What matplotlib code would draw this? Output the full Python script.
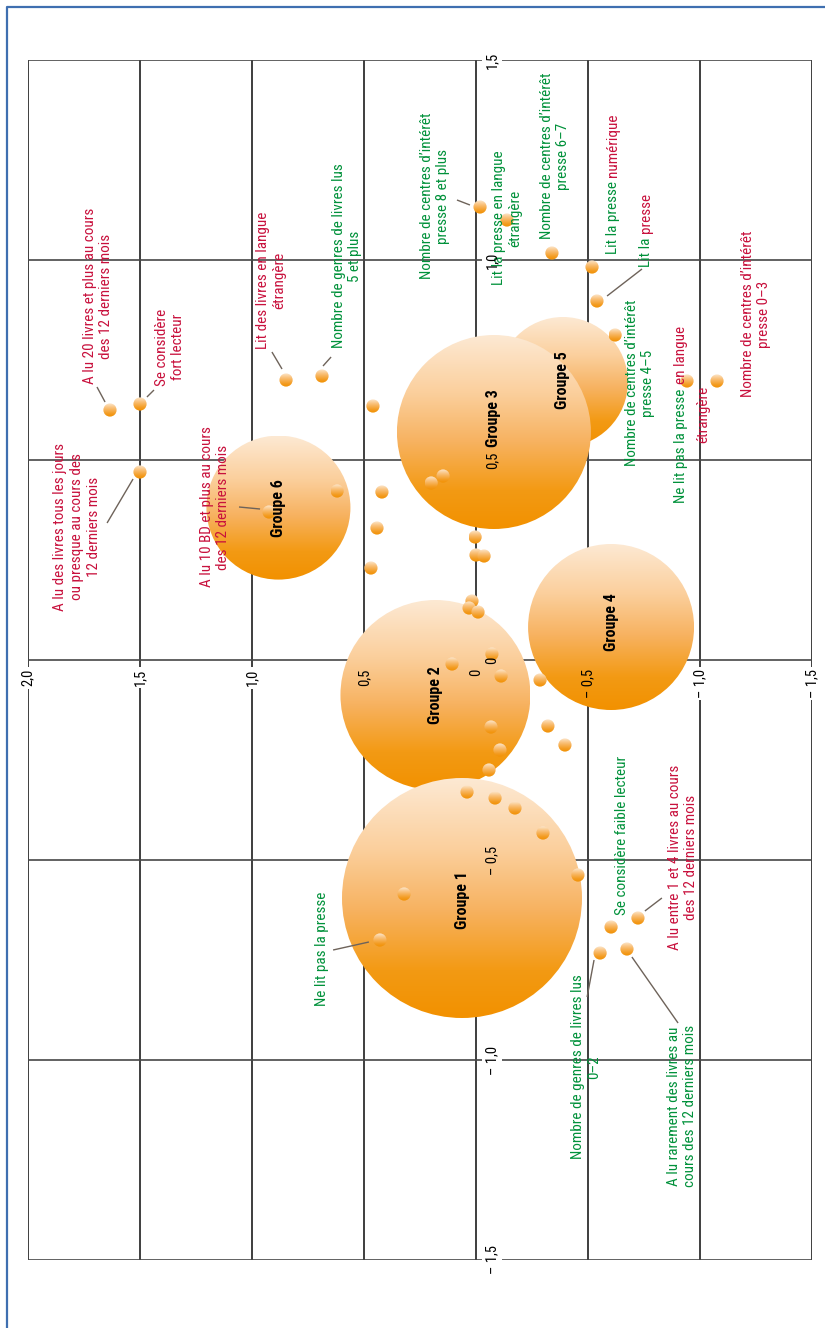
import numpy as np
import matplotlib
matplotlib.use('Agg')
import matplotlib.pyplot as plt
from matplotlib.patches import Ellipse
from matplotlib.colors import LinearSegmentedColormap
from matplotlib.lines import Line2D
from matplotlib import font_manager as fm

# ------------------------------------------------------------------ data
group_names = ['Groupe 1', 'Groupe 2', 'Groupe 3', 'Groupe 4', 'Groupe 5', 'Groupe 6']
group_x = [0.0625, 0.181, -0.080, -0.603, -0.388, 0.882]
group_y = [-0.595, -0.0875, 0.570, 0.0825, 0.695, 0.381]
group_r = [0.300, 0.2375, 0.2425, 0.2075, 0.1625, 0.180]   # radius, in vertical-axis units
group_label_y = [-0.600, -0.0875, 0.605, 0.095, 0.700, 0.380]

point_x = [1.634, 1.500, 0.848, 1.500, 0.924, 0.6875, 0.460, 0.620, 0.420, 0.442,
           0.469, 0.147, 0.200, 0.004, 0.000, -0.036, 0.018, 0.031, -0.009, 0.107,
           -0.071, -0.112, -0.286, -0.067, -0.321, -0.397, -0.107, -0.058, 0.040, -0.085,
           -0.174, -0.299, -0.455, 0.321, 0.429, -0.723, -0.603, -0.674, -0.554, -0.018,
           -0.138, -0.339, -0.518, -0.540, -0.621, -0.942, -1.076]
point_y = [0.625, 0.640, 0.700, 0.470, 0.370, 0.710, 0.635, 0.4225, 0.420, 0.330,
           0.230, 0.460, 0.4425, 0.3075, 0.2625, 0.260, 0.1475, 0.130, 0.120, -0.010,
           0.015, -0.040, -0.050, -0.1675, -0.165, -0.2125, -0.225, -0.275, -0.330, -0.345,
           -0.370, -0.4325, -0.5375, -0.585, -0.700, -0.645, -0.6675, -0.7225, -0.7325, 1.1325,
           1.100, 1.0175, 0.9825, 0.8975, 0.8125, 0.6975, 0.6975]

x_ticks = [2.0, 1.5, 1.0, 0.5, 0.0, -0.5, -1.0, -1.5]
y_ticks = [1.5, 1.0, 0.5, 0.0, -0.5, -1.0, -1.5]

RED = '#c8103c'
GREEN = '#00913a'

# single-colour labels: text, colour, centre (x, y), leader segment or None
label_texts = [
    "A lu 20 livres et plus au cours\ndes 12 derniers mois",
    "Se considère\nfort lecteur",
    "Lit des livres en langue\nétrangère",
    "Nombre de genres de livres lus\n5 et plus",
    "A lu des livres tous les jours\nou presque au cours des\n12 derniers mois",
    "A lu 10 BD et plus au cours\ndes 12 derniers mois",
    "Nombre de centres d’intérêt\npresse 8 et plus",
    "Lit la presse en langue\nétrangère",
    "Nombre de centres d’intérêt\npresse 6–7",
    "Nombre de centres d’intérêt\npresse 4–5",
    "Nombre de centres d’intérêt\npresse 0–3",
    "Ne lit pas la presse",
    "Se considère faible lecteur",
    "A lu entre 1 et 4 livres au cours\ndes 12 derniers mois",
    "Nombre de genres de livres lus\n0–2",
    "A lu rarement des livres au\ncours des 12 derniers mois",
]
label_colors = [RED, RED, RED, GREEN, RED, RED, GREEN, GREEN, GREEN, GREEN, RED,
                GREEN, GREEN, RED, GREEN, GREEN]
label_x = [1.6875, 1.366, 0.915, 0.576, 1.781, 1.165, 0.183, -0.138, -0.353, -0.732,
           -1.250, 0.6875, -0.652, -0.924, -0.491, -0.920]
label_y = [0.910, 0.7825, 0.950, 1.010, 0.3325, 0.3825, 1.160, 1.105, 1.260, 0.6925,
           0.865, -0.7225, -0.4375, -0.4925, -1.0175, -1.115]
leaders = [
    (1.692, 0.6825, 1.656, 0.645),
    (1.469, 0.6575, 1.4375, 0.675),
    (0.911, 0.770, 0.866, 0.7275),
    (0.647, 0.7575, 0.683, 0.735),
    (1.647, 0.3425, 1.531, 0.4525),
    (1.058, 0.3825, 0.964, 0.3775),
    (0.085, 1.150, 0.027, 1.1375),
    None, None, None, None,
    (0.638, -0.725, 0.478, -0.705),
    None,
    (-0.754, -0.6275, -0.830, -0.595),
    (-0.496, -0.8425, -0.527, -0.750),
    (-0.902, -0.9075, -0.696, -0.7425),
]

# two-colour labels: list of lines, each line = (x, y_centre, [(text, colour), ...])
multi_labels = [
    [(-0.612, 1.190, [("Lit la presse", GREEN), ("numérique", RED)])],
    [(-0.759, 1.075, [("Lit la", GREEN), ("presse", RED)])],
    [(-0.915, 0.614, [("Ne lit pas la presse", GREEN), ("en langue", RED)]),
     (-1.013, 0.614, [("étrangère", RED)])],
]
multi_leader = (-0.585, 0.910, -0.741, 0.9775)

# ------------------------------------------------------------------ fonts
names = {f.name for f in fm.fontManager.ttflist}
FAMILY, STRETCH = 'DejaVu Sans', 'normal'
for cand in ['Liberation Sans Narrow', 'Roboto Condensed', 'Open Sans Condensed',
             'DejaVu Sans Condensed', 'Noto Sans Condensed']:
    if cand in names:
        FAMILY = cand
        break
else:
    for f in fm.fontManager.ttflist:
        if f.name in ('DejaVu Sans', 'Noto Sans', 'Open Sans', 'Roboto') and 'condensed' in str(f.stretch):
            FAMILY, STRETCH = f.name, 'condensed'
            break
plt.rcParams['font.family'] = [FAMILY, 'DejaVu Sans']
plt.rcParams['font.stretch'] = STRETCH

FS = 10.9
GAP_PT = 3.2   # word space between the two coloured parts, in points

# ------------------------------------------------------------------ figure
W, H = 825, 1328
fig = plt.figure(figsize=(W / 100, H / 100), dpi=100)
ax = fig.add_axes([28 / W, 68 / H, 784 / W, 1200 / H])
ax.set_xlim(2.0, -1.5)
ax.set_ylim(-1.5, 1.5)
ax.set_xticks([])
ax.set_yticks([])
for s in ax.spines.values():
    s.set_visible(False)

# grid
for t in x_ticks:
    ax.axvline(t, color='#1e1e1e', lw=1.2, zorder=1)
for t in y_ticks:
    ax.axhline(t, color='#474747', lw=1.2, zorder=1)

# pixel scale factors from the data transform
p0 = ax.transData.transform((0, 0))
px_x = abs(ax.transData.transform((1, 0))[0] - p0[0])
px_y = abs(ax.transData.transform((0, 1))[1] - p0[1])

bubble_cmap = LinearSegmentedColormap.from_list(
    'bub', [(0.0, '#fde9d3'), (0.3, '#fbcf9c'), (0.55, '#f7b260'),
            (0.8, '#f39a14'), (1.0, '#f29100')])
dot_cmap = LinearSegmentedColormap.from_list(
    'dot', [(0.0, '#fde8cf'), (0.35, '#f9bf76'), (0.75, '#f39c22'), (1.0, '#f29100')])
grad = np.linspace(0, 1, 256).reshape(-1, 1)


def gradient_disc(cx, cy, r_px, cmap, z):
    rx = r_px / px_x
    ry = r_px / px_y
    e = Ellipse((cx, cy), 2 * rx, 2 * ry, fc='none', ec='none', zorder=z)
    ax.add_patch(e)
    im = ax.imshow(grad, cmap=cmap, extent=(cx - rx, cx + rx, cy - ry, cy + ry),
                   origin='upper', aspect='auto', interpolation='bilinear', zorder=z)
    im.set_clip_path(e)


# bubbles (drawing order so that Groupe 1 covers 2 and Groupe 3 covers 5)
for k, i in enumerate([1, 0, 4, 2, 3, 5]):
    gradient_disc(group_x[i], group_y[i], group_r[i] * px_y, bubble_cmap, 2 + k * 0.01)

# tick labels
def fmt(v):
    if v == 0:
        return '0'
    s = f"{abs(v):.1f}".replace('.', ',')
    return ('\u2013 ' + s) if v < 0 else s

hx_anchor = -9 / px_y        # just below the horizontal axis
vy_anchor = -16 / px_x       # right of the vertical axis (inverted x)
for t in x_ticks:
    for col, z, bb in [((0, 0, 0, 0), 1.5, dict(boxstyle='square,pad=0.15', fc='white', ec='none')),
                       ('black', 6, None)]:
        ax.text(t, hx_anchor, fmt(t), rotation=90, rotation_mode='anchor', ha='right',
                va='center', fontsize=FS - 0.4, color=col, zorder=z, bbox=bb)
for t in y_ticks:
    for col, z, bb in [((0, 0, 0, 0), 1.5, dict(boxstyle='square,pad=0.2', fc='white', ec='none')),
                       ('black', 6, None)]:
        ax.text(vy_anchor, t, fmt(t), rotation=90, ha='center', va='center',
                fontsize=FS - 0.4, color=col, zorder=z, bbox=bb)

# small points
for x, y in zip(point_x, point_y):
    gradient_disc(x, y, 6.6, dot_cmap, 3)

# group labels
for i, name in enumerate(group_names):
    ax.text(group_x[i], group_label_y[i], name, rotation=90, ha='center', va='center',
            fontsize=FS + 0.6, fontweight='bold', color='black', zorder=5)

# leaders
for seg in leaders + [multi_leader]:
    if seg is None:
        continue
    ax.plot([seg[0], seg[2]], [seg[1], seg[3]], color='#6e635a', lw=1.0, zorder=4,
            solid_capstyle='butt')

# labels
for txt, c, x, y in zip(label_texts, label_colors, label_x, label_y):
    ax.text(x, y, txt, rotation=90, ha='center', va='center', multialignment='center',
            fontsize=FS, color=c, zorder=5, linespacing=1.25)

# two-colour labels
renderer = fig.canvas.get_renderer()


def text_len(s):
    tmp = ax.text(0, 0, s, rotation=90, fontsize=FS)
    L = tmp.get_window_extent(renderer).height / px_y
    tmp.remove()
    return L


gap = GAP_PT * fig.dpi / 72 / px_y
for lines in multi_labels:
    for (x, y, parts) in lines:
        if len(parts) == 1:
            ax.text(x, y, parts[0][0], rotation=90, ha='center', va='center',
                    fontsize=FS, color=parts[0][1], zorder=5)
            continue
        total = sum(text_len(p[0]) for p in parts) + gap * (len(parts) - 1)
        prev = ax.text(x, y - total / 2, parts[0][0], rotation=90, rotation_mode='anchor',
                       ha='left', va='center', fontsize=FS, color=parts[0][1], zorder=5)
        for s, c in parts[1:]:
            prev = ax.annotate(s, xy=(0.5, 1.0), xycoords=prev, xytext=(0, GAP_PT),
                               textcoords='offset points', rotation=90,
                               rotation_mode='anchor', ha='left', va='center',
                               fontsize=FS, color=c, zorder=5)

ax.set_xlim(2.0, -1.5)
ax.set_ylim(-1.5, 1.5)

# outer blue frame
fig.add_artist(Line2D([7 / W, 7 / W, 1.0], [0.0, 1 - 7 / H, 1 - 7 / H],
                      transform=fig.transFigure, color='#3f6fb0', lw=1.6))

fig.savefig('out.png', dpi=100)
